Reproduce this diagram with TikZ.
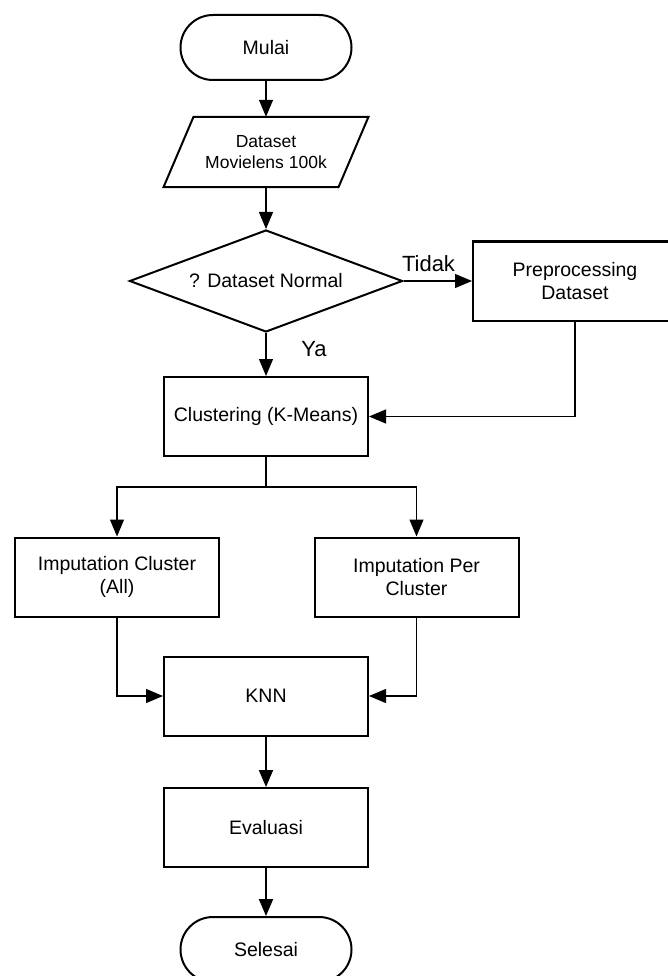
\documentclass[tikz,border=0pt]{standalone}
\usepackage{fontspec}
\setmainfont{Liberation Sans}
\usetikzlibrary{arrows.meta,shapes.geometric}
\begin{document}
\begin{tikzpicture}[x=1pt,y=-1pt,
  boxtxt/.style={font=\fontsize{19.5}{22.5}\selectfont, align=center, inner sep=0pt},
  procbox/.style={boxtxt, draw, line width=2pt, minimum width=204pt, minimum height=79pt},
  termbox/.style={boxtxt, draw, line width=2pt, minimum width=171pt, minimum height=65pt, rounded corners=32.5pt},
  decbox/.style={boxtxt, draw, line width=2pt, diamond, aspect=2.68, minimum width=273pt, minimum height=102pt},
  lbl/.style={font=\fontsize{22}{24}\selectfont, inner sep=0pt},
  conn/.style={line width=1.2pt, -{Triangle[length=17pt,width=14pt]}},
  thinline/.style={line width=1.2pt},
  thickconn/.style={line width=2pt, -{Triangle[length=17pt,width=14pt]}}
]
\useasboundingbox (0,0) rectangle (668,976);
\clip (0,0) rectangle (668,976);
\fill[white] (0,0) rectangle (668,976);

\node[termbox] (mulai) at (266,47.5) {Mulai};
\node[boxtxt, font=\fontsize{17.5}{21}\selectfont, minimum width=205pt, minimum height=70pt] (data) at (266,152) {Dataset\\Movielens 100k};
\draw[line width=2pt] ([xshift=-72.5pt]data.north) -- ([xshift=102.5pt]data.north) -- ([xshift=72.5pt]data.south) -- ([xshift=-102.5pt]data.south) -- cycle;
\node[decbox] (normal) at (266,281) {? Dataset Normal};
\node[procbox] (prep) at (575,281) {Preprocessing\\Dataset};
\node[procbox] (clust) at (266,416.5) {Clustering (K-Means)};
\node[procbox] (impall) at (117,577) {Imputation Cluster\\(All)};
\node[procbox] (impper) at (416.5,577) {Imputation Per\\Cluster};
\node[procbox] (knn) at (266,696) {KNN};
\node[procbox] (eval) at (266,827.5) {Evaluasi};
\node[termbox] (selesai) at (266,949.5) {Selesai};

\node[lbl] (tidak) at (428.5,264) {Tidak};
\node[lbl] (ya) at (314,349) {Ya};

\coordinate (split) at (266,487);

\draw[conn] (mulai) -- (data.north);
\draw[conn] (data.south) -- (normal.north);
\draw[conn] (normal.east) -- (prep.west);
\draw[conn] (normal.south) -- (clust.north);
\draw[conn] (prep.south) |- (clust.east);
\draw[thinline] (clust.south) -- (split);
\draw[conn] (split) -| (impall.north);
\draw[conn] (split) -| (impper.north);
\draw[conn] (impall.south) |- (knn.west);
\draw[conn] (impper.south) |- (knn.east);
\draw[thickconn] (knn) -- (eval);
\draw[thickconn] (eval) -- (selesai);
\end{tikzpicture}
\end{document}
